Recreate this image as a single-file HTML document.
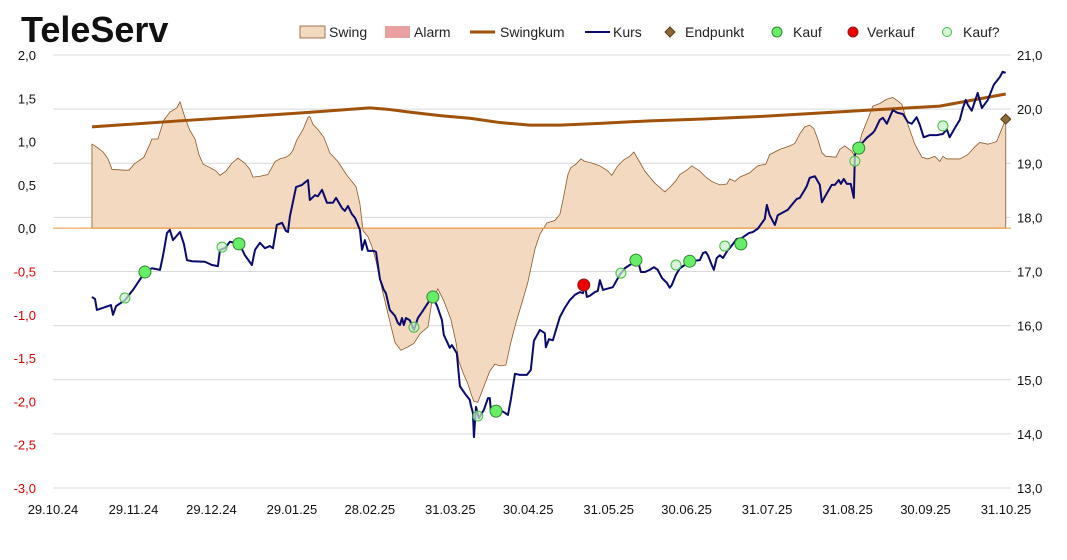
<!DOCTYPE html>
<html><head><meta charset="utf-8"><style>
body{margin:0;background:#fff;font-family:"Liberation Sans",sans-serif}
svg text{font-family:"Liberation Sans",sans-serif}
</style></head><body>
<svg id="chart" width="1067" height="555" xmlns="http://www.w3.org/2000/svg">
<text x="21" y="42" font-size="36" font-weight="bold" fill="#111">TeleServ</text>
<g id="legend" font-size="14" fill="#222">
<g><rect x="300" y="26" width="25" height="12" fill="#f3d9c0" stroke="#8b5a2b" stroke-width="0.8"/><text x="329" y="37">Swing</text></g>
<g><rect x="385" y="26" width="25" height="12" fill="#e8a0a0"/><text x="414" y="37">Alarm</text></g>
<g><line x1="470" y1="32" x2="495" y2="32" stroke="#a0520a" stroke-width="3"/><text x="500" y="37">Swingkum</text></g>
<g><line x1="585" y1="32" x2="610" y2="32" stroke="#0a0a6e" stroke-width="2"/><text x="613" y="37">Kurs</text></g>
<g><polygon points="670,27 675,32 670,37 665,32" fill="#8b6a3a" stroke="#5a3a10"/><text x="685" y="37">Endpunkt</text></g>
<g><circle cx="777" cy="32" r="5" fill="#66ee66" stroke="#338833"/><text x="793" y="37">Kauf</text></g>
<g><circle cx="853" cy="32" r="5" fill="#ee0000" stroke="#882222"/><text x="867" y="37">Verkauf</text></g>
<g><circle cx="947" cy="32" r="4.5" fill="#d8f5d8" stroke="#44bb44"/><text x="963" y="37">Kauf?</text></g>
</g>
<g id="grid"></g><g id="swing"></g><g id="kum"></g><g id="kurs"></g><g id="marks"></g><g id="axes"></g>
</svg>
<script>
const kursDays=[15,16.2,16.9,20,22.3,23.1,24.3,27.7,30.8,35.4,38.1,41.2,42.4,43.9,45,46.2,48.9,50.4,51.6,53.5,58.5,61.2,63.5,64.3,66.2,68.1,70.1,72,73.9,76.6,77.8,79.7,81.6,83.5,84.7,86.2,88.2,89.7,90.5,91.2,93.6,95.9,98.2,98.9,100.9,102,103.6,105.5,107.8,109,111.3,112.4,113.6,115.1,116.3,118.2,119,120.1,121.3,123.6,124.4,125.9,127.4,128.2,129.7,131.7,132.8,133.6,134.4,135.1,135.9,137.4,139,140.5,142.1,145.9,147.8,149.8,150.5,152.8,153.6,155.5,156.7,159,160.5,160.9,161.7,162.1,162.9,164,165.9,167.5,168.2,168.6,170.2,172.1,174,175.2,176.3,177.9,179.8,182.5,184,185.2,187.5,189.4,189.8,191,192.5,195.2,197.1,199,201,202.9,204.1,204.8,205.6,206.7,208.7,209.8,210.6,211.8,213.3,215.6,217.1,218.3,220.2,222.1,223.7,225.2,226.4,227.9,229.8,231.4,232.9,234.5,236.4,237.5,238.3,239.9,241.4,243.3,244.1,249.1,250.3,251.4,252.2,253.7,254.5,255.6,256.8,258,259.9,260.6,263.3,265.3,268,269.5,271.4,274.1,274.9,276,278,279.1,280.7,283,284.5,286.4,287.6,289.5,290.3,291.4,293.4,295.3,296.1,297.6,299.9,301.1,302.6,303.4,304.5,305.7,307.2,308.4,308.8,309.9,311.9,313.4,315.7,316.5,318.4,319.6,321.1,323.4,325.3,327.3,329.2,330.7,332.6,333.8,335.3,337.6,340.3,342.7,344.2,345.3,347.3,349.2,350.4,351.5,352.3,353.8,356.1,357.7,360,362.3,364.6,365.7,366.9];
const kursValues=[16.53,16.49,16.29,16.34,16.38,16.2,16.36,16.47,16.66,16.99,17.06,17.03,17.3,17.71,17.77,17.58,17.73,17.51,17.21,17.19,17.18,17.12,17.1,17.4,17.43,17.55,17.53,17.49,17.3,17.12,17.4,17.53,17.43,17.47,17.43,17.86,17.9,17.75,17.73,18.01,18.56,18.6,18.69,18.32,18.41,18.39,18.51,18.27,18.27,18.36,18.17,18.12,18.21,18.06,17.99,17.77,17.4,17.58,17.38,17.38,17.36,16.86,16.66,16.6,16.29,16.18,16.05,16.01,16.14,16.01,16.14,16.1,15.92,16.14,16.25,16.53,16.38,16.1,15.83,15.59,15.64,15.49,14.88,14.72,14.63,14.53,14.39,13.94,14.5,14.29,14.44,14.66,14.66,14.44,14.4,14.44,14.39,14.35,14.63,15.11,15.09,15.09,15.18,15.72,15.92,15.86,15.6,15.75,15.73,16.16,16.33,16.47,16.57,16.62,16.6,16.75,16.53,16.55,16.62,16.64,16.84,16.66,16.68,16.71,16.84,16.94,17.06,17.12,17.16,17.21,16.99,16.99,17.03,17.08,17.03,16.88,16.79,16.7,16.75,16.94,17.06,17.12,17.18,17.21,17.34,17.36,17.3,17.12,17.03,17.25,17.3,17.25,17.4,17.43,17.6,17.62,17.71,17.73,17.79,17.97,18.23,18.04,17.86,18.04,18.08,18.14,18.23,18.34,18.36,18.51,18.58,18.73,18.76,18.6,18.28,18.41,18.6,18.6,18.69,18.62,18.71,18.62,18.62,18.36,19.15,19.3,19.39,19.47,19.56,19.61,19.8,19.84,19.73,19.98,19.93,19.91,19.76,19.73,19.85,19.71,19.48,19.52,19.52,19.54,19.63,19.48,19.65,19.8,20.02,20.17,20.08,19.97,20.3,20.02,20.17,20.45,20.59,20.69,20.67];
const swingDays=[15,16.2,19.3,21.2,22.7,27.7,29.3,31.2,35,37.3,38.1,40.4,42.7,45,47.7,48.9,50.8,52.7,54.7,56.2,57.8,60.4,62.8,64.3,66.6,68.9,71.2,73.9,75.8,77,79.7,82.8,85.5,87.4,89.7,91.2,92.4,93.9,96.3,98.2,98.9,100.1,102,104.3,106.6,109.7,113.2,116.7,118.2,119.4,121.3,122.8,124.4,126.7,129,131.7,134,136.7,139,141.3,144.4,145.9,148.2,150.5,153.2,155.2,156.3,158.2,159.8,161.3,162.1,163.6,168.2,170.2,172.1,174.4,176.3,178.3,181,182.9,185.6,187.5,190.2,193.3,195.2,196.4,198.3,199.4,201.4,203.3,204.8,206.7,210.6,213.7,215.2,217.5,219.8,222.1,223.7,226,227.9,229.8,231.8,233.7,235.6,237.5,239.9,241.4,244.5,246,249.1,251.4,253.7,256.8,259.5,260.6,262.6,264.5,268.3,271.4,274.5,276,279.9,283.7,285.7,287.6,289.5,291.4,293,294.5,296.1,297.6,301.5,303,304.9,307.6,308.8,309.9,311.5,313.8,315.7,318.4,321.1,323.4,325.3,326.9,329.2,331.9,334.6,336.9,339.6,341.5,342.7,344.2,349.2,352.3,355,356.9,360,363.4,364.6,366.9];
const swingValues=[0.97,0.95,0.88,0.8,0.68,0.67,0.67,0.74,0.82,0.97,1.03,1.03,1.25,1.34,1.39,1.46,1.28,1.13,1.03,0.85,0.74,0.7,0.66,0.61,0.66,0.75,0.81,0.75,0.68,0.59,0.6,0.62,0.77,0.8,0.82,0.85,0.9,1.02,1.14,1.28,1.29,1.2,1.14,1.05,0.87,0.77,0.61,0.48,0.28,-0.03,-0.1,-0.21,-0.38,-0.7,-0.99,-1.32,-1.41,-1.37,-1.33,-1.22,-1.14,-0.85,-0.7,-0.84,-1.05,-1.32,-1.54,-1.69,-1.8,-1.94,-2,-2.01,-1.65,-1.57,-1.59,-1.58,-1.32,-1.09,-0.82,-0.62,-0.24,-0.07,0.06,0.09,0.16,0.33,0.62,0.7,0.74,0.8,0.77,0.76,0.72,0.66,0.61,0.72,0.79,0.83,0.88,0.76,0.66,0.59,0.52,0.47,0.42,0.47,0.55,0.62,0.68,0.72,0.66,0.59,0.54,0.5,0.51,0.57,0.54,0.59,0.64,0.72,0.74,0.85,0.91,0.95,0.98,1.09,1.17,1.19,1.15,1.03,0.87,0.83,0.82,0.91,0.95,0.89,0.83,0.91,1.09,1.26,1.41,1.44,1.49,1.51,1.47,1.43,1.2,0.97,0.82,0.8,0.83,0.77,0.83,0.8,0.8,0.85,0.94,0.99,0.97,1,1.09,1.26];
const kumDays=[15,48.9,95.1,122,129.7,137.4,149,160.5,172.1,183.6,195.2,210.6,229.8,249.1,272.2,295.3,318.4,341.5,366.9];
const kumValues=[1.17,1.24,1.33,1.39,1.37,1.34,1.3,1.27,1.22,1.19,1.19,1.21,1.24,1.26,1.29,1.33,1.37,1.41,1.55];
const kaufDays=[35.4,71.6,146.3,170.6,224.5,245.2,264.9,310.3];
const kaufValues=[16.99,17.51,16.53,14.42,17.21,17.19,17.51,19.28];
const verkaufDays=[204.4];
const verkaufValues=[16.75];
const kaufQDays=[27.7,65.1,139,163.6,218.7,239.9,258.7,308.8,342.7];
const kaufQValues=[16.51,17.45,15.97,14.33,16.97,17.12,17.47,19.04,19.69];
const endDay=[366.9];
const endValue=[1.26];
const leftTicks=["2,0","1,5","1,0","0,5","0,0","-0,5","-1,0","-1,5","-2,0","-2,5","-3,0"];
const rightTicks=["21,0","20,0","19,0","18,0","17,0","16,0","15,0","14,0","13,0"];
const xTickDays=[0,31,61,92,122,153,183,214,244,275,306,336,367];
const xTickLabels=["29.10.24","29.11.24","29.12.24","29.01.25","28.02.25","31.03.25","30.04.25","31.05.25","30.06.25","31.07.25","31.08.25","30.09.25","31.10.25"];

const X0=53,X1=1006,Y0=55,Y1=488;
const xs=d=>X0+d/367*(X1-X0);
const yl=v=>Y0+(2-v)/5*(Y1-Y0);
const yr=v=>Y0+(21-v)/8*(Y1-Y0);
const NS="http://www.w3.org/2000/svg";
function mk(tag,parent,attrs){const e=document.createElementNS(NS,tag);for(const k in attrs)e.setAttribute(k,attrs[k]);document.getElementById(parent).appendChild(e);return e;}

rightTicks.forEach((t,i)=>{const v=21-i;const y=yr(v);
 const g=mk('line','grid',{x1:X0,x2:X1+5,y1:y,y2:y,stroke:'#d9d9d9','stroke-width':1});
 
 
 const tx=mk('text','axes',{x:1017,y:y+5,'font-size':13,fill:'#111'});tx.textContent=t;
 
 
});
leftTicks.forEach((t,i)=>{const v=2-i*0.5;const y=yl(v);
 const tx=mk('text','axes',{x:36,y:y+5,'font-size':13,'text-anchor':'end',fill:v<0?'#e00000':'#111'});tx.textContent=t;
 
 
});
xTickDays.forEach((d,i)=>{
 const tx=mk('text','axes',{x:xs(d),y:514,'font-size':13,'text-anchor':'middle',fill:'#111'});tx.textContent=xTickLabels[i];
 
 
});
let p='M'+xs(swingDays[0])+','+yl(0);
swingDays.forEach((d,i)=>{p+=' L'+xs(d)+','+yl(swingValues[i]);});
p+=' L'+xs(swingDays[swingDays.length-1])+','+yl(0)+' Z';
const sa=mk('path','swing',{d:p,fill:'#f3d9c0',stroke:'#8b5a2b','stroke-width':0.8});


const zl=mk('line','swing',{x1:X0,x2:X1+5,y1:yl(0),y2:yl(0),stroke:'#f0a050','stroke-width':1.2});


const kl=mk('polyline','kum',{points:kumDays.map((d,i)=>xs(d)+','+yl(kumValues[i])).join(' '),fill:'none',stroke:'#a0520a','stroke-width':3,'stroke-linejoin':'round'});


const ku=mk('polyline','kurs',{points:kursDays.map((d,i)=>xs(d)+','+yr(kursValues[i])).join(' '),fill:'none',stroke:'#0a0a6e','stroke-width':2,'stroke-linejoin':'round'});


kaufQDays.forEach((d,i)=>{const c=mk('circle','marks',{cx:xs(d),cy:yr(kaufQValues[i]),r:5,fill:'rgba(200,240,200,0.7)',stroke:'#44bb44','stroke-width':1});
 
 });
kaufDays.forEach((d,i)=>{const c=mk('circle','marks',{cx:xs(d),cy:yr(kaufValues[i]),r:6,fill:'#66ee66',stroke:'#338833','stroke-width':1});
 
 });
verkaufDays.forEach((d,i)=>{const c=mk('circle','marks',{cx:xs(d),cy:yr(verkaufValues[i]),r:6,fill:'#ee0000',stroke:'#882222','stroke-width':1});
 
 });
endDay.forEach((d,i)=>{const x=xs(d),y=yl(endValue[i]);
 const e=mk('polygon','marks',{points:`${x},${y-5} ${x+5},${y} ${x},${y+5} ${x-5},${y}`,fill:'#8b6a3a',stroke:'#5a3a10'});
 
 });
</script>
</body></html>
